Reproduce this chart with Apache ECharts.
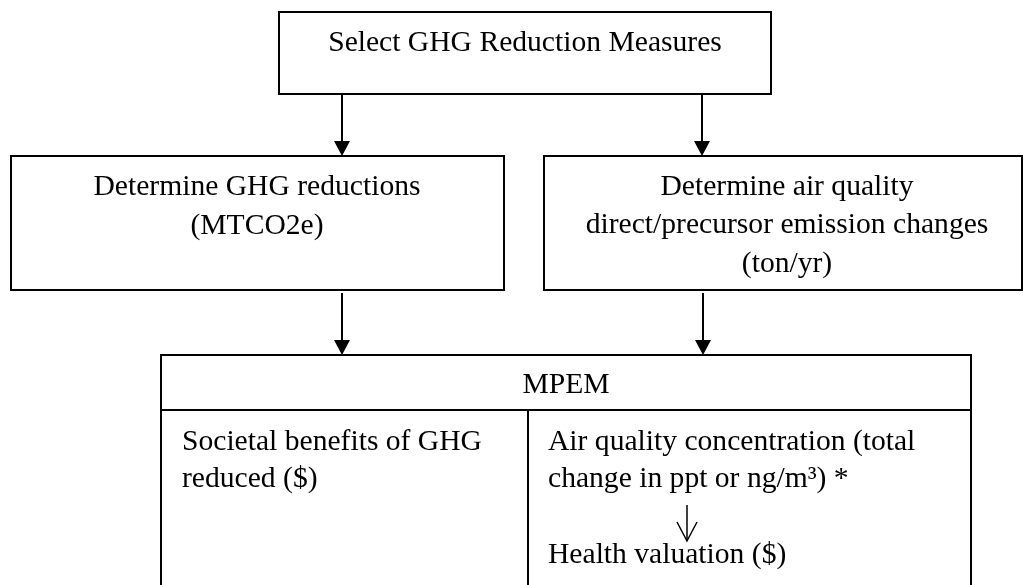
<!DOCTYPE html>
<html>
<head>
<meta charset="utf-8">
<script src="https://cdn.jsdelivr.net/npm/echarts@6/dist/echarts.min.js"></script>
<style>
  html, body { margin: 0; padding: 0; background: #fff; }
  #flow { width: 1026px; height: 585px; }
</style>
</head>
<body>
<div id="flow"></div>
<script>
// texts of the flow chart
var topText = ['Select GHG Reduction Measures'];
var leftText = ['Determine GHG reductions', '(MTCO2e)'];
var rightText = ['Determine air quality', 'direct/precursor emission changes', '(ton/yr)'];
var headText = ['MPEM'];
var cellLeftText = ['Societal benefits of GHG', 'reduced ($)'];
var cellRightText = ['Air quality concentration (total', 'change in ppt or ng/m\u00b3) *'];
var cellRightBottom = ['Health valuation ($)'];

var FONT = '"Liberation Serif", "DejaVu Serif", serif';

// fit the font size to the width of the top label in the picture (~394px)
var cv = document.createElement('canvas').getContext('2d');
cv.font = '100px ' + FONT;
var fs = Math.round(100 * 394 / cv.measureText(topText[0]).width * 10) / 10;

var myChart = echarts.init(document.getElementById('flow'));
var els = [];

function box(x, y, w, h) {
    els.push({ type: 'rect', shape: { x: x, y: y, width: w, height: h },
        style: { fill: 'none', stroke: '#000', lineWidth: 2 } });
}
function line(x1, y1, x2, y2) {
    els.push({ type: 'line', shape: { x1: x1, y1: y1, x2: x2, y2: y2 },
        style: { stroke: '#000', lineWidth: 2 } });
}
function arrow(x, y1, y2) {
    line(x, y1, x, y2 - 12);
    els.push({ type: 'polygon', shape: { points: [[x - 8, y2 - 15], [x + 8, y2 - 15], [x, y2]] },
        style: { fill: '#000' } });
}
function lines(arr, x, y0, step, align) {
    arr.forEach(function (t, i) {
        els.push({ type: 'text', style: { text: t, x: x, y: y0 + i * step, font: fs + 'px ' + FONT,
            fill: '#000', textAlign: align, textVerticalAlign: 'middle' } });
    });
}

// top box
box(279, 12, 492, 82);
lines(topText, 525, 43, 38.5, 'center');
arrow(342, 94, 156);
arrow(702, 94, 156);

// second row
box(11, 156, 493, 134);
lines(leftText, 257, 187, 39, 'center');
box(544, 156, 478, 134);
lines(rightText, 787, 187, 38.5, 'center');
arrow(342, 293, 355);
arrow(703, 293, 355);

// MPEM table (open at the bottom)
line(161, 355, 971, 355);
line(161, 354, 161, 590);
line(971, 354, 971, 590);
line(161, 410, 971, 410);
line(528, 410, 528, 590);
lines(headText, 566, 385, 38, 'center');
lines(cellLeftText, 182, 442, 37.5, 'left');
lines(cellRightText, 548, 442, 37.5, 'left');
// small open arrow inside the right cell
els.push({ type: 'line', shape: { x1: 687, y1: 505, x2: 687, y2: 540 },
    style: { stroke: '#000', lineWidth: 1.5 } });
els.push({ type: 'polyline', shape: { points: [[677, 522], [687, 541], [697, 522]] },
    style: { fill: 'none', stroke: '#000', lineWidth: 1.5 } });
lines(cellRightBottom, 548, 555, 38, 'left');

myChart.setOption({
    backgroundColor: '#fff',
    animation: false,
    graphic: { elements: els }
});
</script>
</body>
</html>
